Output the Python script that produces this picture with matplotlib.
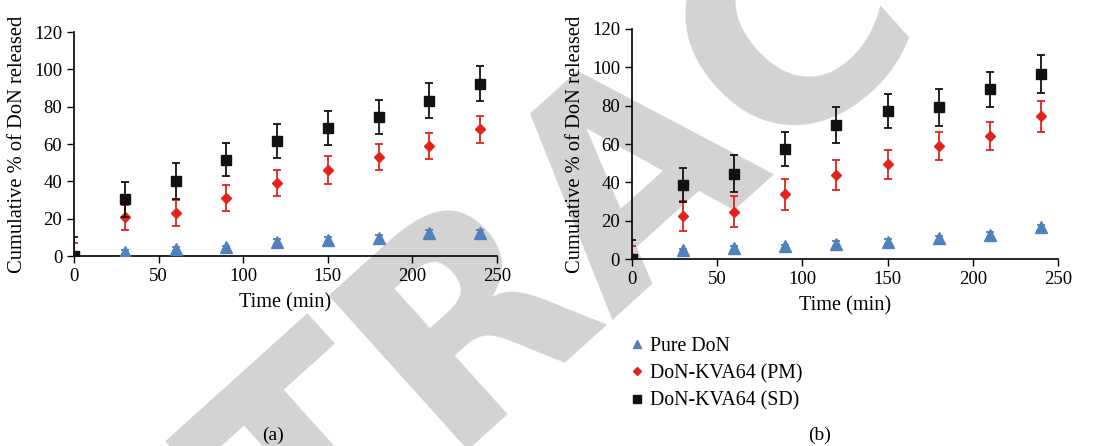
import matplotlib
matplotlib.use("Agg")
import matplotlib.pyplot as plt
import numpy as np

time_min = [0, 30, 60, 90, 120, 150, 180, 210, 240]
series_names = ["Pure DoN", "DoN-KVA64 (PM)", "DoN-KVA64 (SD)"]

# Panel (a)
a_pure = [0, 2.3, 3.6, 4.6, 7.5, 8.8, 9.8, 12.2, 12.2]
a_pure_err = [1, 1, 1, 1, 1.5, 1.5, 1.5, 1.5, 1.5]
a_pm = [0, 20.7, 23.1, 31.1, 39.2, 46.1, 53.1, 59.0, 68.0]
a_pm_err = [7, 6.8, 7.0, 7.2, 7.0, 7.7, 7.0, 6.8, 7.3]
a_sd = [0, 30.4, 40.2, 51.5, 61.7, 68.7, 74.6, 83.2, 92.3]
a_sd_err = [10, 9.5, 9.5, 8.8, 9.3, 9.1, 9.0, 9.4, 9.3]

# Panel (b)
b_pure = [0, 4.5, 5.7, 6.6, 7.8, 8.8, 10.8, 12.7, 16.5]
b_pure_err = [1, 1, 1, 1, 1.5, 1.5, 1.5, 1.5, 1.5]
b_pm = [0, 22.5, 24.8, 33.8, 43.9, 49.4, 59.0, 64.2, 74.6]
b_pm_err = [7, 7.6, 8.1, 8.0, 7.6, 7.5, 7.3, 7.1, 8.1]
b_sd = [0, 38.7, 44.6, 57.4, 69.9, 77.2, 79.2, 88.6, 96.4]
b_sd_err = [10, 9.0, 9.7, 8.8, 9.4, 9.0, 9.6, 9.2, 9.9]

x_ticks = [0, 50, 100, 150, 200, 250]
y_ticks = [0, 20, 40, 60, 80, 100, 120]

plt.rcParams['font.family'] = ['Liberation Serif', 'DejaVu Serif']

blue = '#4f81bd'
red = '#e2231a'
black = '#111111'

fig = plt.figure(figsize=(10.97, 4.46), dpi=100)
fig.patch.set_facecolor('white')

# watermark
fig.text(0.581, 0.624, "RETRACTED", fontsize=205, fontweight='bold', family='DejaVu Sans',
         color='#d3d3d3', rotation=42, ha='center', va='center', zorder=-5)

ax_a = fig.add_axes([0.0675, 0.426, 0.3855, 0.502])
ax_b = fig.add_axes([0.576, 0.419, 0.3885, 0.516])

panels = [
    (ax_a, a_pure, a_pure_err, a_pm, a_pm_err, a_sd, a_sd_err),
    (ax_b, b_pure, b_pure_err, b_pm, b_pm_err, b_sd, b_sd_err),
]

for ax, pu, pue, pm, pme, sd, sde in panels:
    ax.set_facecolor('none')
    ax.errorbar(time_min, pu, yerr=pue, fmt='^', color=blue, ms=8, ecolor=blue,
                elinewidth=1.3, capsize=3, capthick=1.3, label=series_names[0], zorder=3)
    ax.errorbar(time_min, pm, yerr=pme, fmt='D', color=red, ms=5.5, ecolor=red,
                elinewidth=1.3, capsize=3, capthick=1.3, label=series_names[1], zorder=4)
    ax.errorbar(time_min, sd, yerr=sde, fmt='s', color=black, ms=7.5, ecolor=black,
                elinewidth=1.3, capsize=3, capthick=1.3, label=series_names[2], zorder=5)
    ax.set_xlim(0, 250)
    ax.set_ylim(0, 120)
    ax.set_xticks(x_ticks)
    ax.set_yticks(y_ticks)
    ax.spines['top'].set_visible(False)
    ax.spines['right'].set_visible(False)
    ax.spines['left'].set_linewidth(1.2)
    ax.spines['bottom'].set_linewidth(1.2)
    ax.tick_params(axis='both', direction='out', length=5, width=1, labelsize=13.5, colors='black')
    ax.set_xlabel("Time (min)", fontsize=14.6, labelpad=6)
    ax.set_ylabel("Cumulative % of DoN released", fontsize=14.8, labelpad=5)

handles, labels = ax_b.get_legend_handles_labels()
handles = [h[0] for h in handles]
fig.legend(handles, labels, loc='upper left', bbox_to_anchor=(0.5685, 0.262), frameon=False,
           fontsize=14.3, handlelength=0.5, handletextpad=0.45, labelspacing=0.4,
           borderaxespad=0, markerscale=0.8)

fig.text(0.249, 0.025, "(a)", fontsize=14, ha='center', va='center')
fig.text(0.747, 0.025, "(b)", fontsize=14, ha='center', va='center')

fig.savefig("out.png", dpi=100, facecolor='white')
